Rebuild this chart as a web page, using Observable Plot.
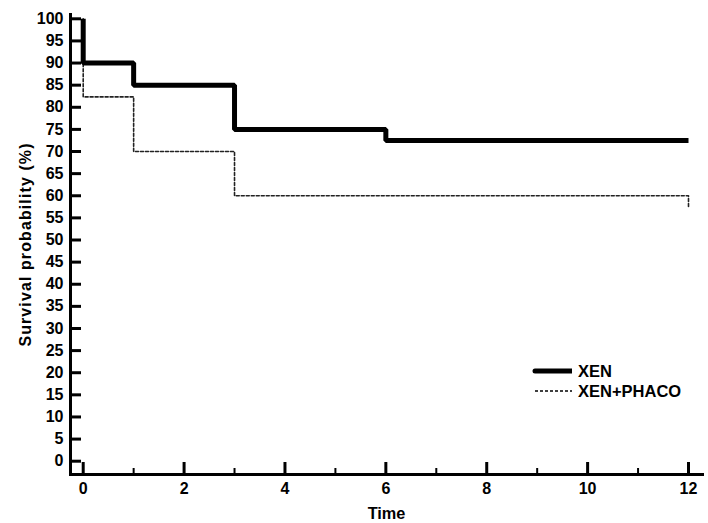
<!DOCTYPE html>
<html>
<head>
<meta charset="utf-8">
<script src="https://cdn.jsdelivr.net/npm/d3@7"></script>
<script src="https://cdn.jsdelivr.net/npm/@observablehq/plot@0.6"></script>
<style>
  html, body { margin: 0; padding: 0; background: #fff; }
  #wrap { position: relative; width: 708px; height: 523px; }
  #legend { position: absolute; left: 532px; top: 361px; font: bold 16.5px "Liberation Sans", Arial, sans-serif; color: #000; }
  #legend .row { display: flex; align-items: center; height: 20px; }
  #legend svg { margin-right: 6px; }
  g[aria-label="y-axis label"] text { letter-spacing: 1.1px; font-size: 16px; }
  g[aria-label="x-axis label"] text { font-size: 16.3px; }
</style>
</head>
<body>
<div id="wrap"><div id="legend"></div></div>
<script>
// Kaplan-Meier step data
const xenTime = [0, 0, 1, 3, 6, 12];
const xenSurv = [100, 90, 85, 75, 72.5, 72.5];
const phacoTime = [0, 0, 1, 3, 12, 12];
const phacoSurv = [100, 82.35, 70, 60, 60, 57.5];
const seriesNames = ["XEN", "XEN+PHACO"];
const yTicks = d3.range(0, 101, 5);
const xMajorTicks = [0, 2, 4, 6, 8, 10, 12];
const xMinorTicks = [1, 3, 5, 7, 9, 11];

const xen = xenTime.map((t, i) => ({t, s: xenSurv[i]}));
const phaco = phacoTime.map((t, i) => ({t, s: phacoSurv[i]}));

const font = '"Liberation Sans", Arial, sans-serif';

const chart = Plot.plot({
  width: 708,
  height: 523,
  marginLeft: 70,
  marginRight: 6,
  marginTop: 14,
  marginBottom: 49,
  style: {fontFamily: font, fontWeight: "bold", fontSize: "16px", color: "#000", background: "#fff"},
  x: {domain: [0, 12], range: [82.7, 688]},
  y: {domain: [0, 100], range: [460.7, 18.3]},
  marks: [
    Plot.frame({anchor: "left", strokeWidth: 3, stroke: "#000"}),
    Plot.frame({anchor: "bottom", strokeWidth: 3, stroke: "#000"}),
    Plot.axisY(yTicks, {anchor: "left", tickSize: -11, tickPadding: 18, strokeWidth: 3, fontSize: 16, fontWeight: "bold",
      label: null}),
    Plot.axisY({anchor: "left", ticks: [], label: "Survival probability (%)", labelAnchor: "center", labelOffset: 51,
      labelArrow: "none", fontSize: 16, fontWeight: "bold"}),
    Plot.axisX(xMajorTicks, {anchor: "bottom", tickSize: -12, tickPadding: 20, strokeWidth: 3, fontSize: 16, fontWeight: "bold",
      label: null}),
    Plot.axisX({anchor: "bottom", ticks: [], label: "Time", labelAnchor: "center", labelOffset: 44, labelArrow: "none",
      fontSize: 16.3, fontWeight: "bold", dx: 6}),
    Plot.axisX(xMinorTicks, {anchor: "bottom", tickSize: -6, strokeWidth: 2, tickFormat: () => "", label: null}),
    Plot.line(phaco, {x: "t", y: "s", curve: "step-after", stroke: "#222", strokeWidth: 1.6, strokeDasharray: "3,2"}),
    Plot.line(xen, {x: "t", y: "s", curve: "step-after", stroke: "#000", strokeWidth: 5, strokeLinejoin: "miter", strokeLinecap: "butt"})
  ]
});
document.getElementById("wrap").prepend(chart);

// legend
const legend = document.getElementById("legend");
const styles = [
  {w: 5, dash: null},
  {w: 1.6, dash: "3,2"}
];
seriesNames.forEach((name, i) => {
  const row = document.createElement("div");
  row.className = "row";
  const ns = "http://www.w3.org/2000/svg";
  const svg = document.createElementNS(ns, "svg");
  svg.setAttribute("width", 40); svg.setAttribute("height", 10);
  const ln = document.createElementNS(ns, "line");
  ln.setAttribute("x1", 3); ln.setAttribute("x2", 40); ln.setAttribute("y1", 5); ln.setAttribute("y2", 5);
  ln.setAttribute("stroke", "#000"); ln.setAttribute("stroke-width", styles[i].w);
  if (styles[i].w > 2) ln.setAttribute("stroke-linecap", "round");
  if (styles[i].dash) ln.setAttribute("stroke-dasharray", styles[i].dash);
  svg.appendChild(ln);
  row.appendChild(svg);
  const span = document.createElement("span");
  span.textContent = name;
  row.appendChild(span);
  legend.appendChild(row);
});
</script>
</body>
</html>
